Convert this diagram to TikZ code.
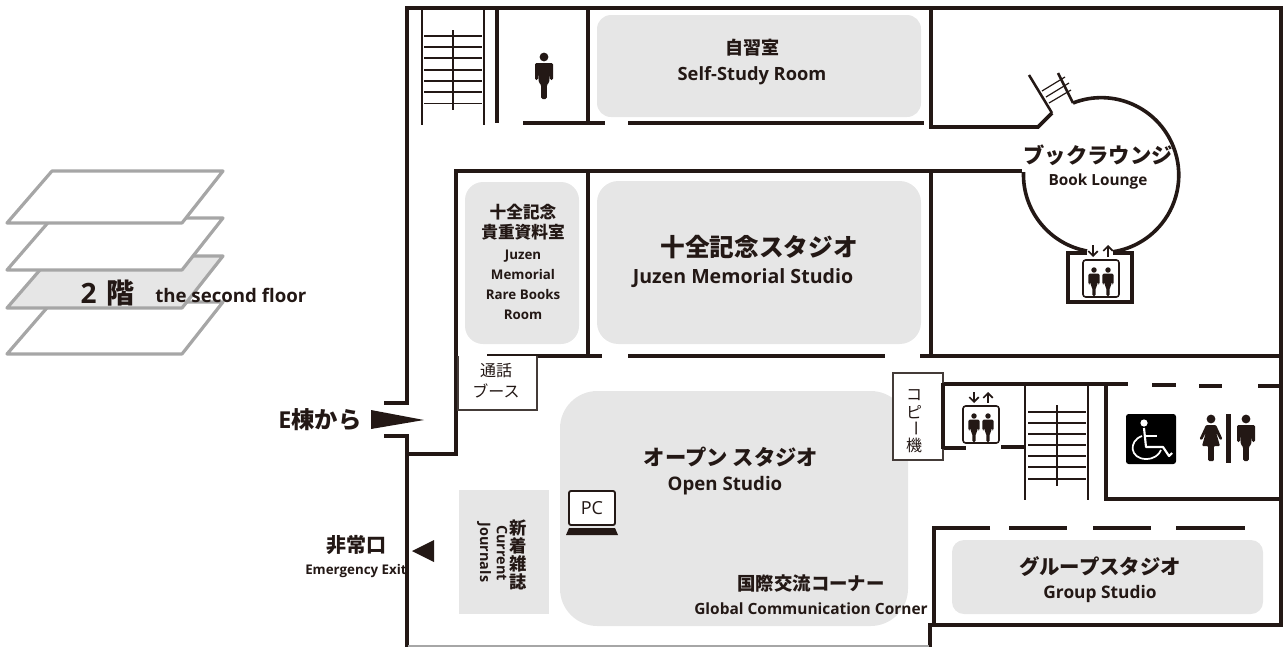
\documentclass[tikz,border=0pt]{standalone}
\usepackage{fontspec}
\usepackage{graphicx}
\setmainfont{Open Sans}
\newfontfamily\jp{Noto Sans CJK JP}
\definecolor{ink}{HTML}{231815}
\definecolor{room}{HTML}{E6E6E6}
\definecolor{slab}{HTML}{A6A6A6}
\newcommand{\fs}[1]{\fontsize{#1}{#1}\selectfont}
\usetikzlibrary{arrows.meta}
\tikzset{
  wall/.style={line width=2.7pt,draw=ink,line join=miter},
  mid/.style={line width=1.9pt,draw=ink},
  rung/.style={line width=0.9pt,draw=ink},
  thin/.style={line width=0.8pt,draw=ink!85},
  roomarea/.style={fill=room,rounded corners=#1},
  floorslab/.style={draw=slab,line width=2.4pt,line join=round,fill=#1},
  lab/.style={text=ink,inner sep=0pt,font=\bfseries,align=center},
  jplab/.style={text=ink,inner sep=0pt,align=center},
  man/.pic={
    \fill[ink] (0,0) circle (4.4);
    \fill[ink,rounded corners=1] (-9,6)--(9,6)--(9,23)--(6,23)--(5.6,13)--(5.4,25)--(2.8,28)--(2.8,42)--(-2.8,42)--(-2.8,28)--(-5.4,25)--(-5.6,13)--(-6,23)--(-9,23)--cycle;
  },
  woman/.pic={
    \fill[ink] (0,0) circle (4.4);
    \fill[ink,rounded corners=0.8] (-5,6)--(5,6)--(11.5,20)--(9,21)--(5,13)--(9,27)--(2.8,27)--(2.8,42)--(-2.8,42)--(-2.8,27)--(-9,27)--(-5,13)--(-9,21)--(-11.5,20)--cycle;
  },
  updn/.style={line width=1.3pt,draw=ink,-{Straight Barb[length=3.5pt,width=7pt]}}
}
\begin{document}
\begin{tikzpicture}[x=0.75pt,y=-0.75pt]
\useasboundingbox (0,0) rectangle (1286,647);
% floors icon
\draw[floorslab=white] (52,302)--(223,302)--(182,354)--(7,354)--cycle;
\draw[floorslab=room] (52,256)--(223,256)--(182,308)--(7,308)--cycle;
\draw[floorslab=white] (52,218)--(223,218)--(182,270)--(7,270)--cycle;
\draw[floorslab=white] (52,171)--(223,171)--(182,223)--(7,223)--cycle;
% rooms
\fill[roomarea=10.5pt] (597,15) rectangle (921,117);
\fill[roomarea=16pt] (597,181) rectangle (921,344);
\fill[roomarea=13.5pt] (465,182) rectangle (579,344);
\fill[roomarea=28pt] (560,391) rectangle (908,626);
\fill[room] (459,490) rectangle (549,614);
\fill[roomarea=9pt] (952,540) rectangle (1263,614);
% outer walls
\draw[wall] (384,403)--(407,403)--(407,8)--(1281,8)--(1281,625)--(930,625)--(930,647);
\draw[wall] (384,436)--(407,436)--(407,647);
\draw[line width=0.9pt,draw=slab] (408,646)--(929,646);
% inner walls
\draw[wall] (407,454)--(456,454)--(456,171)--(1022,171);
\draw[wall] (588,171)--(588,356);
\draw[wall] (588,8)--(588,125);
\draw[wall] (497,8)--(497,123);
\draw[wall] (523,123)--(605,123);
\draw[wall] (628,123)--(924,123);
\draw[wall] (931,8)--(931,127)--(1038,127)--(1052,113);
\draw[wall] (931,171)--(931,356);
\draw[wall] (487,356)--(602,356);
\draw[wall] (628,356)--(885,356);
\draw[wall] (920,356)--(1281,356);
% circular lounge
\draw[wall] (1073,103) arc[start angle=248.6,end angle=441,radius=77.5];
\draw[wall] (1087,251) arc[start angle=100.4,end angle=182,radius=77.5];
\draw[mid] (1052,113)--(1029,75);
\draw[mid] (1058,73)--(1073,103);
\draw[rung] (1042,91)--(1065,77) (1046,97)--(1069,83) (1049,103)--(1071,90);
\draw[wall] (1087,253)--(1068,253)--(1068,302)--(1132,302)--(1132,253)--(1113,253);
% top stairs
\draw[mid] (422,8)--(422,125);
\draw[mid] (484,8)--(484,125);
\draw[mid] (453,30)--(453,110);
\foreach \y in {36,47,58,70,81,92,103.5} \draw[rung] (424,\y)--(482,\y);
% lower core
\draw[wall] (943,384)--(1128,384);
\draw[wall] (943,448)--(966,448);
\draw[wall] (1001,447)--(1025,447);
\draw[mid] (1025,384)--(1025,500);
\draw[mid] (1088,384)--(1088,500);
\draw[wall] (1106,384)--(1106,499)--(1281,499);
\draw[wall] (1152,385)--(1176,385);
\draw[wall] (1199,386)--(1222,386);
\draw[wall] (1258,386)--(1281,386);
\draw[mid] (1057,405)--(1057,486);
\foreach \y in {412,423,434,445,456,467,479} \draw[rung] (1028,\y)--(1086,\y);
% group studio wall
\draw[wall] (990,528)--(934,528)--(934,625);
\draw[wall] (1009,528)--(1067,528);
\draw[wall] (1093,528)--(1151,528);
\draw[wall] (1176,528)--(1245,528);
% booth boxes
\draw[thin,fill=white] (458,356)--(458,410)--(537,410)--(537,356);
\draw[thin,fill=white] (893,373) rectangle (943,460);
\draw[wall] (943,449)--(943,383);
% elevators
\draw[line width=1.2pt,draw=ink,rounded corners=2pt] (1083,260) rectangle (1119,297);
\pic[scale=0.62] at (1094,270) {man};
\pic[scale=0.62] at (1108,270) {man};
\coordinate (ua) at (1093,245); \coordinate (ub) at (1093,257);
\coordinate (uc) at (1108,257); \coordinate (ud) at (1108,245);
\draw[updn] (ua)--(ub); \draw[updn] (uc)--(ud);
\draw[line width=1.2pt,draw=ink,rounded corners=2pt] (963,406) rectangle (999,443);
\pic[scale=0.62] at (974,416) {man};
\pic[scale=0.62] at (988,416) {man};
\coordinate (la) at (974,392); \coordinate (lb) at (974,403);
\coordinate (lc) at (988,403); \coordinate (ld) at (988,392);
\draw[updn] (la)--(lb); \draw[updn] (lc)--(ld);
% pictograms
\pic at (544,57) {man};
\pic at (1211,419) {woman};
\pic at (1246,419) {man};
\fill[ink] (1226,414) rectangle (1231,463);
\fill[black,rounded corners=2pt] (1126,414) rectangle (1176,464);
\fill[white] (1144,423) circle (3.6);
\draw[white,line width=1.6pt,line join=round] (1144,428)--(1146,447)--(1163,447)--(1169,456)--(1172,453);
\draw[white,line width=1.3pt] (1146,436)--(1157,436);
\draw[white,line width=1.3pt] (1142,436) .. controls (1128,441) and (1130,459) .. (1146,459) .. controls (1154,459) and (1159,455) .. (1161,450);
% arrows
\fill[ink] (371,410)--(424,420)--(371,429)--cycle;
\fill[ink] (412,551)--(434,540)--(434,562)--cycle;
% PC
\draw[line width=1.4pt,draw=ink,rounded corners=1.5pt,fill=white] (569,491) rectangle (615,525);
\fill[ink] (569,528)--(615,528)--(618,535)--(566,535)--cycle;
\node[text=ink,inner sep=0pt] (pc) at (592,508) {\fs{13.5}PC};
% labels
\node[jplab] (a1) at (107.5,293) {\fs{21}\bfseries 2\hspace{7.5pt}\jp 階};
\node[lab,anchor=west] (a2) at (155,295) {\fs{14}the second floor};
\node[jplab] (b1) at (752,48) {\jp\bfseries\fs{13.5}自習室};
\node[lab] (b2) at (752,76) {\fs{13.7}Self-Study Room};
\node[jplab] (c1) at (1098,155) {\jp\bfseries\fs{16}ブックラウンジ};
\node[lab] (c2) at (1098,182) {\fs{11.5}Book Lounge};
\node[jplab] (d1) at (759,247) {\jp\bfseries\fs{18.5}十全記念スタジオ};
\node[lab] (d2) at (743,278) {\fs{14.7}Juzen Memorial Studio};
\node[jplab] (e1) at (523,222.5) {\jp\bfseries\fs{12.5}十全記念\\[3.2pt]\jp\bfseries\fs{12.5}貴重資料室};
\node[lab] (e2) at (523,284.5) {\fs{10}Juzen\\[3.1pt]\fs{10}Memorial\\[3.1pt]\fs{10}Rare Books\\[3.1pt]\fs{10}Room};
\node[jplab] (f1) at (496,371) {\jp\fs{12}通話};
\node[jplab] (f2) at (496,391) {\jp\fs{12}ブース};
\node[jplab] (g1) at (914,395) {\jp\fs{12}コ};
\node[jplab] (g2) at (914,412) {\jp\fs{12}ピ};
\node[jplab,rotate=-90] (g3) at (914,428) {\jp\fs{12}ー};
\node[jplab] (g4) at (914,445) {\jp\fs{12}機};
\node[jplab] (h1) at (731,457) {\jp\bfseries\fs{16}オープン スタジオ};
\node[lab] (h2) at (725,486) {\fs{14}Open Studio};
\node[jplab] (i1) at (811,583) {\jp\bfseries\fs{13.8}国際交流コーナー};
\node[lab] (i2) at (811,609) {\fs{11.6}Global Communication Corner};
\node[jplab] (k1) at (1100,567) {\jp\bfseries\fs{15.3}グループスタジオ};
\node[lab] (k2) at (1100,594) {\fs{13}Group Studio};
\node[jplab] (m1) at (320,420) {\bfseries\fs{17.5}E\jp 棟から};
\node[jplab] (n1) at (356,545) {\jp\bfseries\fs{15}非常口};
\node[lab] (n2) at (356,571) {\fs{10}Emergency Exit};
\node[jplab] (p1) at (518,528) {\jp\bfseries\fs{13}新};
\node[jplab] (p2) at (518,545.5) {\jp\bfseries\fs{13}着};
\node[jplab] (p3) at (518,563.5) {\jp\bfseries\fs{13}雑};
\node[jplab] (p4) at (518,582) {\jp\bfseries\fs{13}誌};
\node[lab,rotate=-90] (q1) at (502,553) {\fs{10.8}Current};
\node[lab,rotate=-90] (q2) at (484,552.5) {\fs{10.8}Journals};
\end{tikzpicture}
\end{document}
